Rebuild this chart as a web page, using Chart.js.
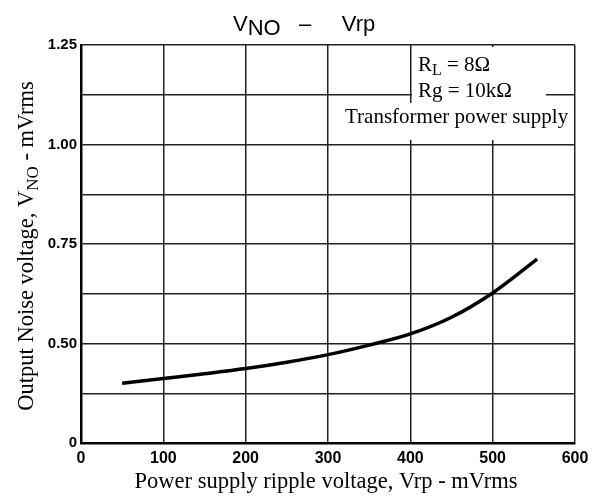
<!DOCTYPE html>
<html>
<head>
<meta charset="utf-8">
<script src="https://cdn.jsdelivr.net/npm/chart.js@4"></script>
<style>
html, body { margin: 0; padding: 0; background: #fff; }
</style>
</head>
<body>
<canvas id="chart" width="597" height="499"></canvas>
<script>
/* DATA */
const rippleMv = [50, 100, 150, 200, 250, 300, 350, 400, 450, 500, 554];
const noiseMv = [0.400, 0.412, 0.424, 0.437, 0.453, 0.472, 0.496, 0.524, 0.566, 0.627, 0.712];
const yTickValues = [0.25, 0.50, 0.75, 1.00, 1.25];
const yTickLabels = ["0", "0.50", "0.75", "1.00", "1.25"];

const serif = "'Liberation Serif', 'Times New Roman', serif";
const sans = "'Liberation Sans', Arial, sans-serif";

/* draw text pieces, some of them as subscripts */
function drawParts(ctx, parts, x, y) {
    let cx = x;
    parts.forEach(p => {
        ctx.font = p.font;
        ctx.fillText(p.t, cx, y + (p.dy || 0));
        cx += ctx.measureText(p.t).width;
    });
    return cx - x;
}

function partsWidth(ctx, parts) {
    let w = 0;
    parts.forEach(p => { ctx.font = p.font; w += ctx.measureText(p.t).width; });
    return w;
}

const textPlugin = {
    id: "texts",
    afterDraw(chart) {
        const ctx = chart.ctx;
        const a = chart.chartArea;
        ctx.save();
        ctx.fillStyle = "#000";
        ctx.textAlign = "left";
        ctx.textBaseline = "alphabetic";

        // title
        const tf = "22px " + sans;
        const title = [
            { t: "V", font: tf },
            { t: "NO", font: tf, dy: 4 },
            { t: "   \u2013     Vrp", font: tf }
        ];
        drawParts(ctx, title, 233, 31);

        // y axis title
        const yf = "22.5px " + serif;
        const ysf = "17px " + serif;
        const yt = [
            { t: "Output Noise voltage, V", font: yf },
            { t: "NO", font: ysf, dy: 5 },
            { t: " - mVrms", font: yf }
        ];
        ctx.save();
        ctx.translate(33, 246);
        ctx.rotate(-Math.PI / 2);
        drawParts(ctx, yt, -partsWidth(ctx, yt) / 2, 0);
        ctx.restore();

        // x axis title
        ctx.font = "22.5px " + serif;
        ctx.textAlign = "center";
        ctx.fillText("Power supply ripple voltage, Vrp - mVrms", 326, 488);
        ctx.textAlign = "left";

        // note box
        ctx.fillStyle = "#fff";
        ctx.fillRect(412, a.top + 2, 134, 58);
        ctx.fillRect(343, 103, a.right - 345, 37);
        ctx.fillStyle = "#000";
        const lf = "21px " + serif;
        drawParts(ctx, [
            { t: "R", font: lf },
            { t: "L", font: "16px " + serif, dy: 4 },
            { t: " = 8\u03A9", font: lf }
        ], 418, 71);
        drawParts(ctx, [{ t: "Rg = 10k\u03A9", font: lf }], 418, 97);
        drawParts(ctx, [{ t: "Transformer power supply", font: lf }], 345, 123);

        ctx.restore();
    }
};

new Chart(document.getElementById("chart"), {
    type: "scatter",
    data: {
        datasets: [{
            data: rippleMv.map((v, i) => ({ x: v, y: noiseMv[i] })),
            showLine: true,
            borderColor: "#000",
            borderWidth: 3.5,
            pointRadius: 0,
            cubicInterpolationMode: "monotone"
        }]
    },
    options: {
        responsive: false,
        animation: false,
        layout: { padding: { top: 45, right: 22, left: 0, bottom: 0 } },
        plugins: {
            legend: { display: false },
            tooltip: { enabled: false }
        },
        scales: {
            x: {
                type: "linear",
                min: 0,
                max: 600,
                afterFit(s) { s.height = 56; },
                ticks: {
                    stepSize: 100,
                    padding: 6,
                    color: "#000",
                    font: { family: "'Liberation Sans'", size: 16, weight: "bold" }
                },
                grid: { color: "#222", lineWidth: 1.5, drawTicks: false },
                border: { color: "#000", width: 2.5 }
            },
            y: {
                min: 0.25,
                max: 1.25,
                afterFit(s) { s.width = 81; },
                ticks: {
                    stepSize: 0.125,
                    padding: 4,
                    color: "#000",
                    font: { family: "'Liberation Sans'", size: 15, weight: "bold" },
                    callback(v) {
                        const i = yTickValues.findIndex(t => Math.abs(t - v) < 1e-6);
                        return i >= 0 ? yTickLabels[i] : "";
                    }
                },
                grid: { color: "#222", lineWidth: 1.5, drawTicks: false },
                border: { color: "#000", width: 2.5 }
            }
        }
    },
    plugins: [textPlugin]
});
</script>
</body>
</html>
